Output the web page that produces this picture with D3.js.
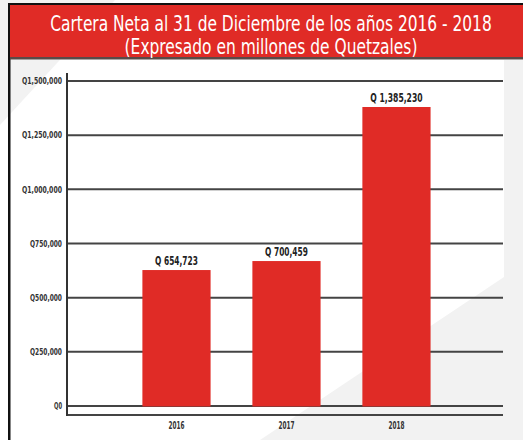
<!DOCTYPE html>
<html><head><meta charset="utf-8">
<script src="https://cdn.jsdelivr.net/npm/d3@7"></script>
<style>
html,body{margin:0;padding:0;background:#fff;}
svg{display:block;}
text{font-family:"Liberation Sans Narrow","DejaVu Sans Condensed","Roboto Condensed",sans-serif;}
</style></head>
<body>
<script>
const categories = ["2016", "2017", "2018"];
const values = [627500, 669000, 1380000];
const valueLabels = ["Q 654,723", "Q 700,459", "Q 1,385,230"];
const tickValues = [0, 250000, 500000, 750000, 1000000, 1250000, 1500000];
const tickLabels = ["Q0", "Q250,000", "Q500,000", "Q750,000", "Q1,000,000", "Q1,250,000", "Q1,500,000"];
const titleLines = ["Cartera Neta al 31 de Diciembre de los años 2016 - 2018", "(Expresado en millones de Quetzales)"];

const W = 523, H = 440;
const RED = "#e02b26";
const svg = d3.select("body").append("svg").attr("width", W).attr("height", H);

// background decoration
svg.append("rect").attr("x",0).attr("y",0).attr("width",W).attr("height",H).attr("fill","#fff");
svg.append("polygon").attr("points","0,0 115,0 0,125").attr("fill","#f2f2f2");
svg.append("rect").attr("x",504).attr("y",60).attr("width",W-504).attr("height",H-60).attr("fill","#f2f2f2");
svg.append("polygon").attr("points",`260,${H} 504,277 ${W},277 ${W},${H}`).attr("fill","#f2f2f2");

// left border
svg.append("rect").attr("x",8).attr("y",3).attr("width",2.5).attr("height",H-3).attr("fill","#111");
// title box
svg.append("rect").attr("x",9).attr("y",3).attr("width",W-9).attr("height",2).attr("fill","#111");
svg.append("rect").attr("x",10).attr("y",5).attr("width",W-10).attr("height",53).attr("fill",RED);
svg.append("rect").attr("x",10).attr("y",57).attr("width",W-10).attr("height",2.5).attr("fill","#5a4a48");

// title: scale horizontally to reference widths
const titleSpec = [{y:31, w:442, fs:21}, {y:54, w:293, fs:21}];
titleLines.forEach((t,i)=>{
  const s = titleSpec[i];
  const tx = svg.append("text").attr("text-anchor","middle").attr("fill","#fff")
    .attr("font-size",s.fs).text(t);
  const nat = tx.node().getComputedTextLength();
  tx.attr("transform",`translate(271,${s.y}) scale(${s.w/nat},1)`);
});

// scales
const x0 = 67, x1 = 503;
const x = d3.scaleBand().domain(categories).range([x0, x1]).paddingInner(0.38).paddingOuter(0.672).align(0.51);
const y = d3.scaleLinear().domain([0, 1500000]).range([406, 81]);

// gridlines
const g = svg.append("g");
g.selectAll("line.grid").data(tickValues).join("line").attr("class","grid")
  .attr("x1",x0).attr("x2",x1).attr("y1",d=>y(d)).attr("y2",d=>y(d))
  .attr("stroke","#444").attr("stroke-width",2);
// bottom line and vertical axis
g.append("line").attr("x1",x0).attr("x2",x1).attr("y1",415).attr("y2",415).attr("stroke","#444").attr("stroke-width",2);
g.append("line").attr("x1",x0).attr("x2",x0).attr("y1",73).attr("y2",416).attr("stroke","#333").attr("stroke-width",2);

// y axis labels
const yAxis = d3.axisLeft(y).tickValues(tickValues).tickSize(0).tickPadding(5)
  .tickFormat((d,i)=>tickLabels[i]);
const ya = svg.append("g").attr("transform",`translate(${x0},0)`).call(yAxis);
ya.select(".domain").remove();
ya.selectAll("text").attr("font-family",null).attr("font-size",8.5).attr("font-weight","bold").attr("fill","#333")
  .attr("textLength",d=>tickLabels[tickValues.indexOf(d)].length*4.0).attr("lengthAdjust","spacingAndGlyphs");

// bars
svg.selectAll("rect.bar").data(values).join("rect").attr("class","bar")
  .attr("x",(d,i)=>x(categories[i])).attr("width",x.bandwidth())
  .attr("y",d=>y(d)).attr("height",d=>y(0)-y(d)+0.5).attr("fill",RED);

// value labels
svg.selectAll("text.val").data(values).join("text").attr("class","val")
  .attr("x",(d,i)=>x(categories[i])+x.bandwidth()/2).attr("y",d=>y(d)-5)
  .attr("text-anchor","middle").attr("font-size",12.5).attr("font-weight","bold").attr("fill","#222")
  .attr("textLength",(d,i)=>valueLabels[i].length*4.75).attr("lengthAdjust","spacingAndGlyphs")
  .text((d,i)=>valueLabels[i]);

// x axis labels
const xAxis = d3.axisBottom(x).tickSize(0).tickPadding(6);
const xa = svg.append("g").attr("transform","translate(0,416)").call(xAxis);
xa.select(".domain").remove();
xa.selectAll("text").attr("font-family",null).attr("font-size",10).attr("font-weight","bold").attr("fill","#333")
  .attr("textLength",16).attr("lengthAdjust","spacingAndGlyphs");
</script>
</body></html>
